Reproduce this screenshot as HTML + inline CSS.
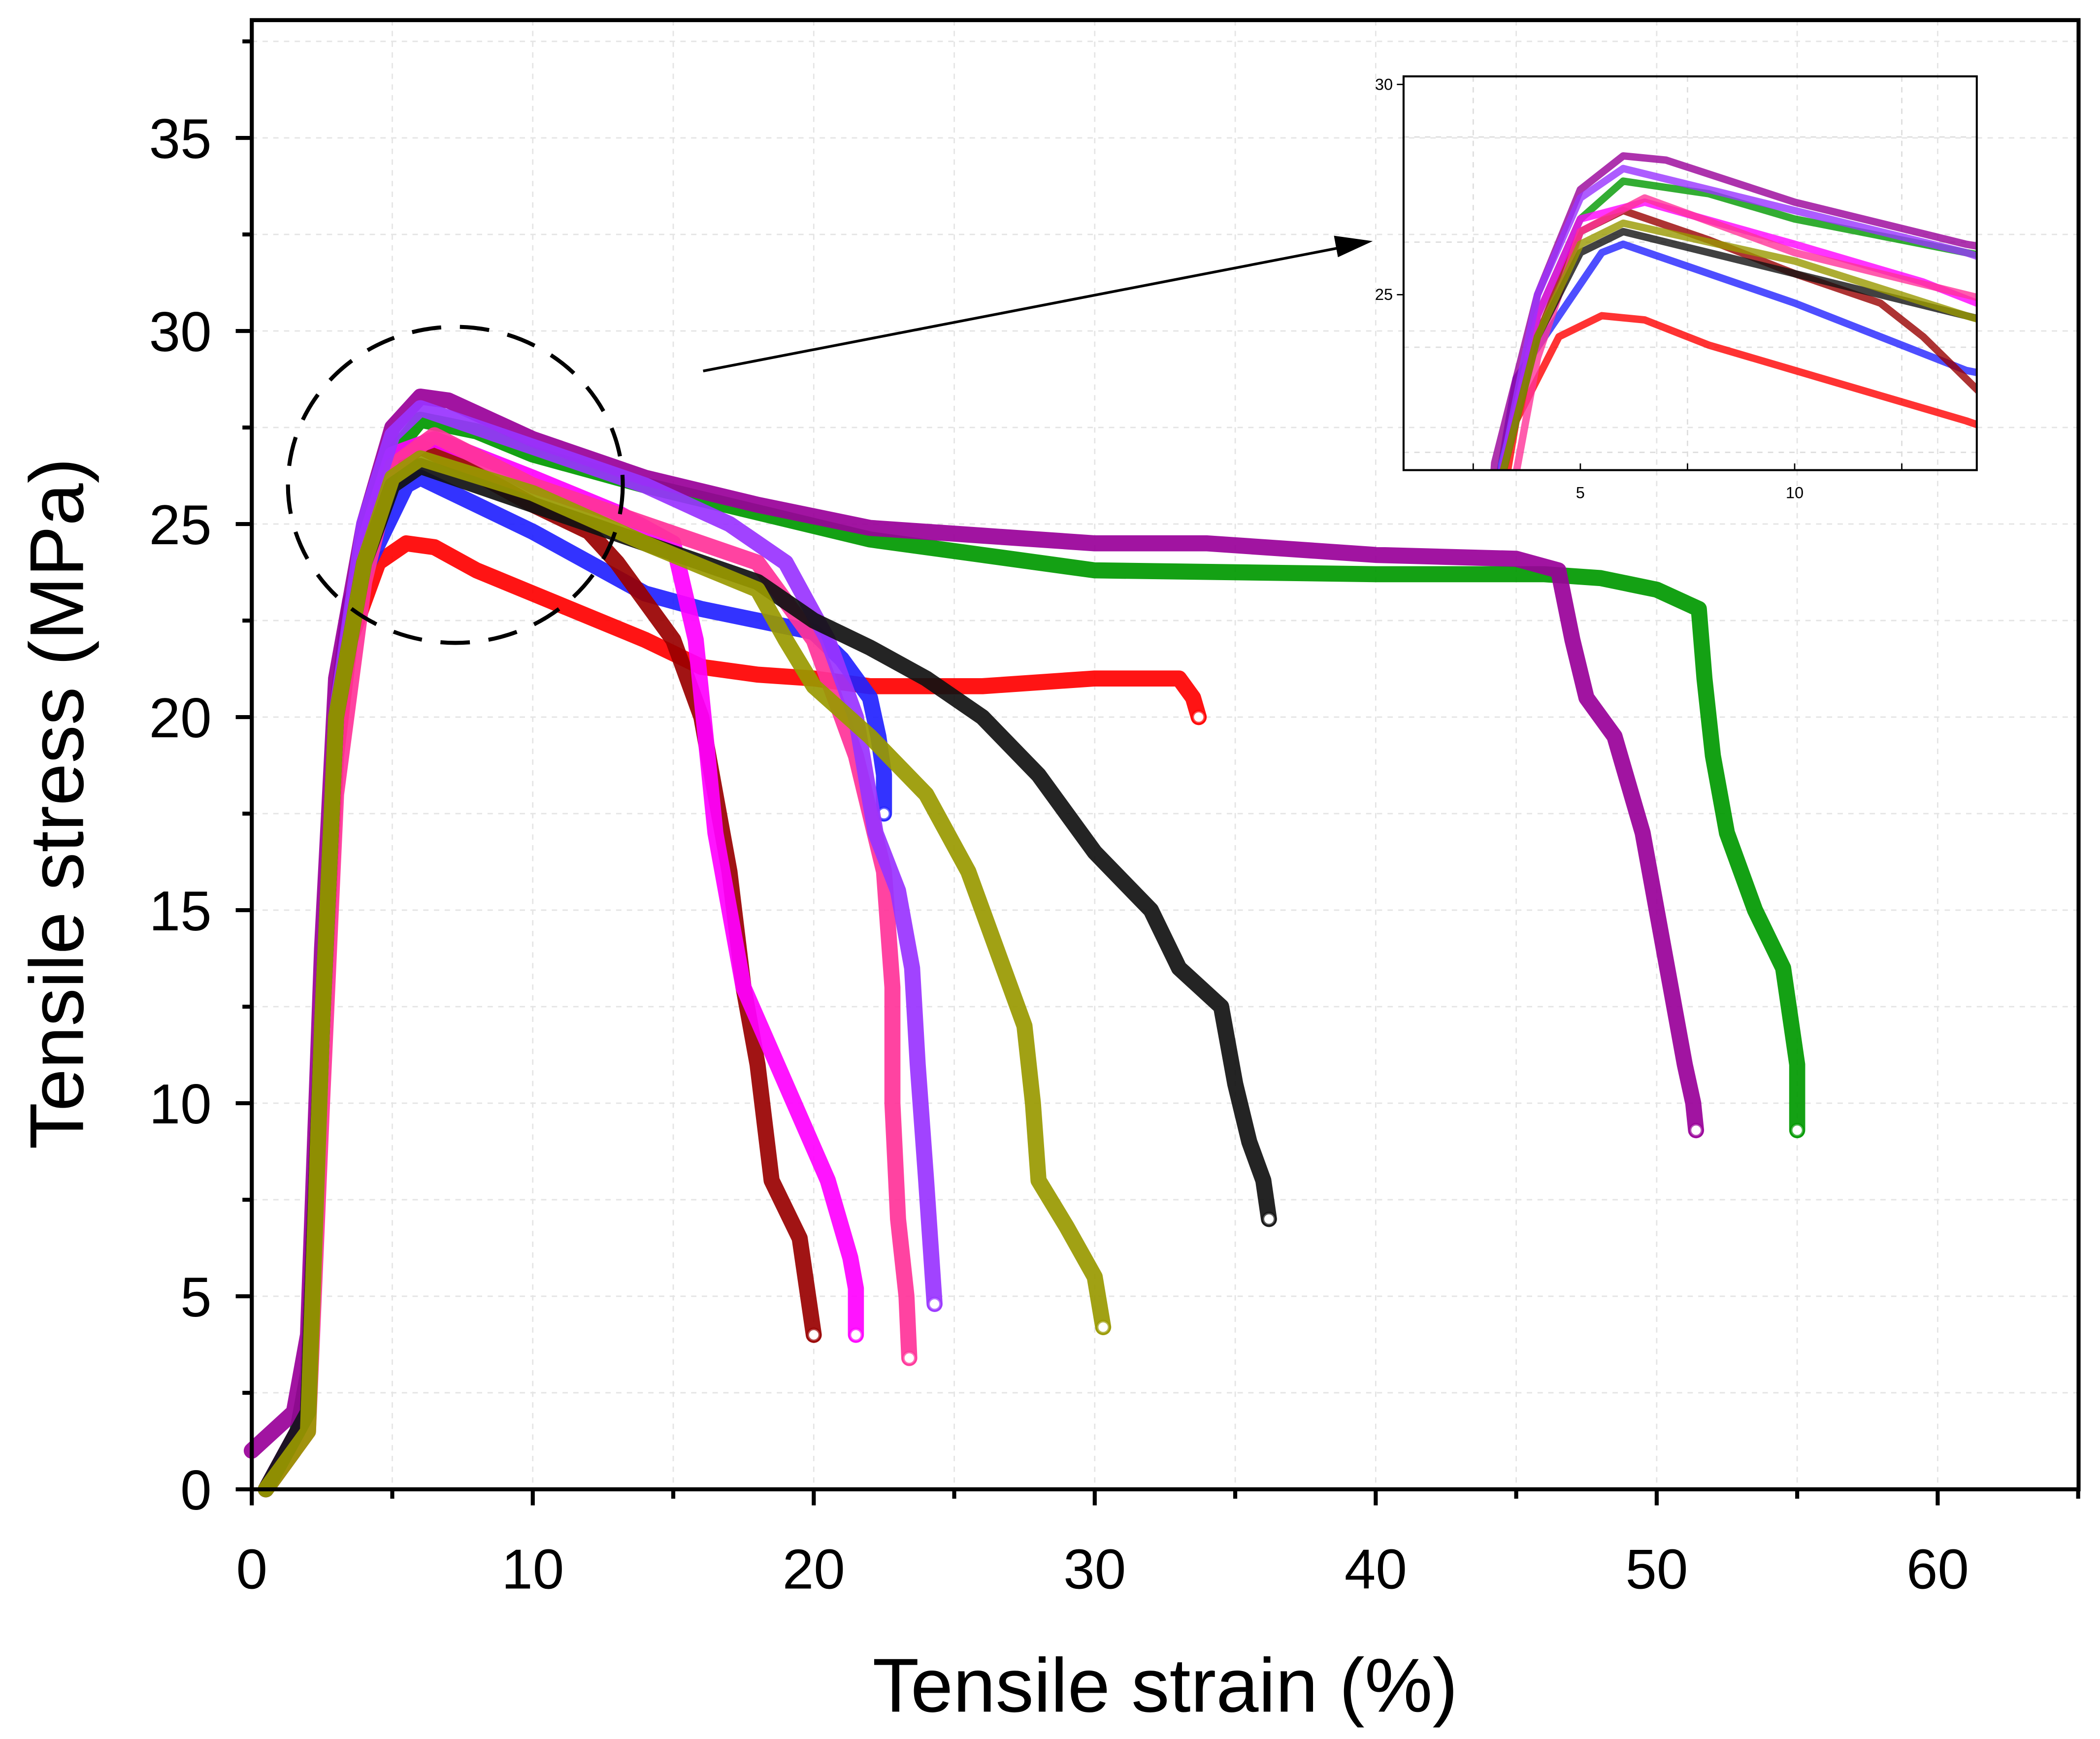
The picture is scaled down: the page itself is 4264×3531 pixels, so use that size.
<!DOCTYPE html>
<html><head><meta charset="utf-8">
<style>
html,body{margin:0;padding:0;background:#fff;}
svg{display:block;font-family:"Liberation Sans",Arial,sans-serif;}
</style></head>
<body>
<svg id="chart" width="4264" height="3531" viewBox="0 0 1568 1298.4" xmlns="http://www.w3.org/2000/svg">
<rect x="0" y="0" width="1568" height="1298.4" fill="#fff"/>
<g id="grid"></g>
<g id="series"></g>
<g id="axes"></g>
<g id="inset"></g>
</svg>
<script>
const xTicks = [0,10,20,30,40,50,60];
const yTicks = [0,5,10,15,20,25,30,35];
const seriesNames = ['red','blue','green','purple','darkred','magenta','pink','violet','black','olive'];
const seriesColors = ['#ff0000','#2222ff','#009900','#990099','#990000','#ff00ff','#ff3399','#9933ff','#111111','#999900'];
const redX = [0.5,1.5,2,2.5,3,3.5,4.5,5.5,6.5,8,10,12,14,16,18,20,22,26,30,33,33.5,33.7];
const redY = [0,1,3,12,19,22,24,24.5,24.4,23.8,23.2,22.6,22,21.3,21.1,21,20.8,20.8,21,21,20.5,20];
const blueX = [0.5,1.5,2,2.5,3,3.5,4.5,5.5,6,8,10,12,14,16,18,20,21,22,22.3,22.5,22.5];
const blueY = [0,1,3,12,20,23,24.5,26,26.2,25.5,24.8,24,23.2,22.8,22.5,22.2,21.5,20.5,19.5,18.5,17.5];
const greenX = [0.5,1.5,2,2.5,3,4,5,6,8,10,14,18,22,26,30,40,46,48,50,51.5,51.7,52,52.5,53.5,54.5,55,55];
const greenY = [0,1,3,12,20,24.5,26.8,27.7,27.4,26.8,26,25.3,24.6,24.2,23.8,23.7,23.7,23.6,23.3,22.8,21,19,17,15,13.5,11,9.3];
const purpleX = [0,1.5,2,2.5,3,4,5,6,7,10,14,18,22,26,30,34,40,45,46.5,47,47.5,48.5,49.5,50.5,51,51.3,51.4];
const purpleY = [1,2,4,14,21,25,27.5,28.3,28.2,27.2,26.2,25.5,24.9,24.7,24.5,24.5,24.2,24.1,23.8,22,20.5,19.5,17,13,11,10,9.3];
const darkredX = [0.5,2,2.5,3,4,5,6,8,10,12,13,14,15,16,17,17.5,18,18.5,19.5,20];
const darkredY = [0,2,12,20,24,26.5,27,26.3,25.5,24.8,24,23,22,20,16,13,11,8,6.5,4];
const magentaX = [0.5,2,2.5,3,4,5,6.5,10,13,15,15.8,16.5,17.5,19,20.5,21.3,21.5,21.5];
const magentaY = [0,2,12,20,24.5,26.8,27.2,26.2,25.3,24.5,22,17,13,10.5,8,6,5.2,4];
const pinkX = [0.5,2,2.5,3,4,5,6.5,10,14,18,20,21.5,22.5,22.8,22.8,23,23.3,23.4];
const pinkY = [0,1.5,10,18,23.5,26.5,27.3,26,25,24,22,19,16,13,10,7,5,3.4];
const violetX = [0.5,2,2.5,3,4,5,6,10,14,17,19,20.5,21.5,22.2,23,23.5,23.7,24,24.3];
const violetY = [0,2,12,20,25,27.3,28,27,26,25,24,22,20,17,15.5,13.5,11,8,4.8];
const blackX = [0.5,2,2.5,3,4,5,6,10,14,18,20,22,24,26,28,30,32,33,34.5,35,35.5,36,36.2];
const blackY = [0,2,12,20,24,26,26.5,25.5,24.5,23.5,22.5,21.8,21,20,18.5,16.5,15,13.5,12.5,10.5,9,8,7];
const oliveX = [0.5,2,2.5,3,4,5,6,10,14,18,19,20,22,24,25.5,26.5,27.5,27.8,28,29,30,30.3];
const oliveY = [0,1.5,12,20,24,26.2,26.7,25.8,24.5,23.3,22,20.8,19.5,18,16,14,12,10,8,6.8,5.5,4.2];
const allX = [redX,blueX,greenX,purpleX,darkredX,magentaX,pinkX,violetX,blackX,oliveX];
const allY = [redY,blueY,greenY,purpleY,darkredY,magentaY,pinkY,violetY,blackY,oliveY];
const insetXTicks = [5,10];
const insetYTicks = [25,30];

const NS='http://www.w3.org/2000/svg';
const X0=188,X1=1552,Y0=1112,Y1=15;
function sx(v){return 188+v*20.98;}
function sy(v){return 1112-v*28.83;}
function ix(v){return 1180+(v-5)*32;}
function iy(v){return 220-(v-25)*31.4;}
function mk(tag,attrs,parent){const e=document.createElementNS(NS,tag);for(const k in attrs)e.setAttribute(k,attrs[k]);parent.appendChild(e);return e;}
const grid=document.getElementById('grid'),ser=document.getElementById('series'),ax=document.getElementById('axes'),ins=document.getElementById('inset');

for(let v=5;v<=65;v+=5){const l=mk('line',{x1:sx(v),x2:sx(v),y1:Y1,y2:Y0,stroke:'#e4e4e4','stroke-width':1,'stroke-dasharray':'4 4'},grid);

}
for(let v=2.5;v<=37.5;v+=2.5){const l=mk('line',{x1:X0,x2:X1,y1:sy(v),y2:sy(v),stroke:'#e4e4e4','stroke-width':1,'stroke-dasharray':'4 4'},grid);

}

for(let s=0;s<allX.length;s++){
  const pts=allX[s].map((x,i)=>sx(x)+','+sy(allY[s][i])).join(' ');
  const p=mk('polyline',{points:pts,fill:'none',stroke:seriesColors[s],'stroke-width':12,'stroke-linejoin':'round','stroke-linecap':'round','stroke-opacity':0.92},ser);
  
  
  const n=allX[s].length;
  const c=mk('circle',{cx:sx(allX[s][n-1]),cy:sy(allY[s][n-1]),r:4.5,fill:'#fff',stroke:seriesColors[s],'stroke-width':2,'stroke-opacity':0.7},ser);
  
  
}

const frame=mk('rect',{x:X0,y:Y1,width:X1-X0,height:Y0-Y1,fill:'none',stroke:'#000','stroke-width':3},ax);


for(const v of xTicks){
  const t=mk('line',{x1:sx(v),x2:sx(v),y1:Y0,y2:Y0+12,stroke:'#000','stroke-width':3},ax);
  
  
  const tx=mk('text',{x:sx(v),y:1186,'font-size':42,'text-anchor':'middle',fill:'#000'},ax);tx.textContent=v;
  
  
}
for(let v=5;v<=65;v+=10){const t=mk('line',{x1:sx(v),x2:sx(v),y1:Y0,y2:Y0+7,stroke:'#000','stroke-width':3},ax);

}
for(const v of yTicks){
  const t=mk('line',{x1:X0-12,x2:X0,y1:sy(v),y2:sy(v),stroke:'#000','stroke-width':3},ax);
  
  
  const tx=mk('text',{x:158,y:sy(v)+15,'font-size':42,'text-anchor':'end',fill:'#000'},ax);tx.textContent=v;
  
  
}
for(let v=2.5;v<=37.5;v+=5){const t=mk('line',{x1:X0-7,x2:X0,y1:sy(v),y2:sy(v),stroke:'#000','stroke-width':3},ax);

}
const xt=mk('text',{x:870,y:1278,'font-size':57,'text-anchor':'middle',fill:'#000'},ax);xt.textContent='Tensile strain (%)';


const yt=mk('text',{x:0,y:0,'font-size':57,'text-anchor':'middle',fill:'#000',transform:'translate(62,600) rotate(-90)'},ax);yt.textContent='Tensile stress (MPa)';



const el=mk('ellipse',{cx:340,cy:362,rx:125,ry:118,fill:'none',stroke:'#000','stroke-width':3,'stroke-dasharray':'22 14'},ax);


const ar=mk('line',{x1:525,y1:277,x2:1000,y2:185,stroke:'#000','stroke-width':2},ax);


const ah=mk('polygon',{points:'1025,180 996,176 999,192',fill:'#000'},ax);



const defs=mk('defs',{},ins);
const cp=mk('clipPath',{id:'insclip'},defs);
mk('rect',{x:1048,y:57,width:428,height:294},cp);
for(const v of [2.5,7.5,12.5]){const l=mk('line',{x1:ix(v),x2:ix(v),y1:57,y2:351,stroke:'#ddd','stroke-width':1,'stroke-dasharray':'4 4'},ins);

}
for(const v of [28.75,26.25,23.75,21.25]){const l=mk('line',{x1:1048,x2:1476,y1:iy(v),y2:iy(v),stroke:'#ddd','stroke-width':1,'stroke-dasharray':'4 4'},ins);

}
const ig=mk('g',{'clip-path':'url(#insclip)'},ins);
for(let s=0;s<allX.length;s++){
  const pts=allX[s].map((x,i)=>ix(x)+','+iy(allY[s][i])).join(' ');
  const p=mk('polyline',{points:pts,fill:'none',stroke:seriesColors[s],'stroke-width':5.5,'stroke-linejoin':'round','stroke-opacity':0.8},ig);
  
  
}
const ib=mk('path',{d:'M1048,57 L1476,57 L1476,351 L1048,351 Z',fill:'none',stroke:'#000','stroke-width':1.5},ins);


for(const v of insetXTicks){
  const t=mk('text',{x:ix(v),y:372,'font-size':12,'text-anchor':'middle',fill:'#000'},ins);t.textContent=v;
  
  
}
for(const v of [2.5,5,7.5,10,12.5]){const t=mk('line',{x1:ix(v),x2:ix(v),y1:351,y2:346,stroke:'#000','stroke-width':1},ins);

}
for(const v of insetYTicks){
  const t=mk('text',{x:1040,y:iy(v)+4,'font-size':12,'text-anchor':'end',fill:'#000'},ins);t.textContent=v;
  
  
  const tk=mk('line',{x1:1043,x2:1048,y1:iy(v),y2:iy(v),stroke:'#000','stroke-width':1},ins);
  
  
}
</script>
</body></html>
